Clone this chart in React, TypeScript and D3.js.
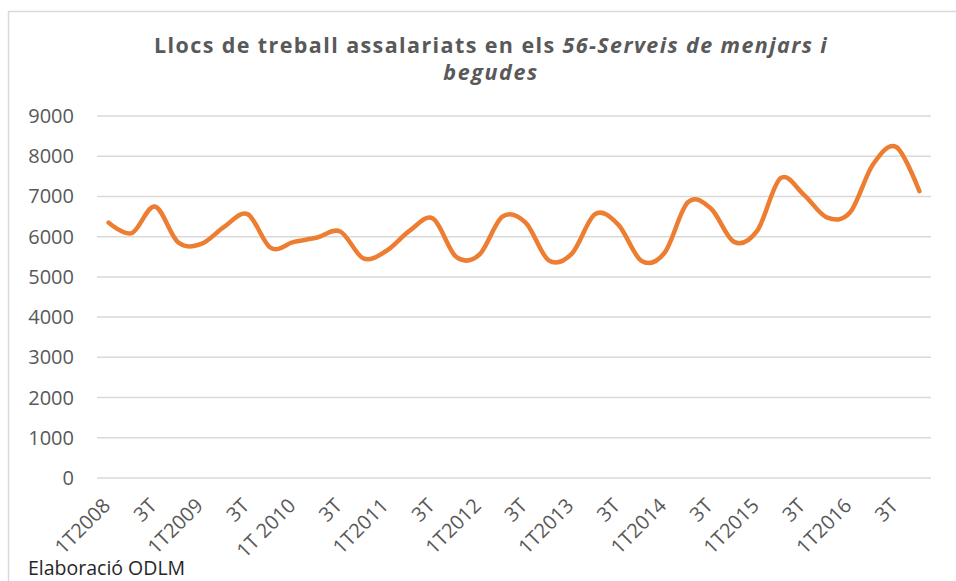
import * as d3 from "d3";

const quarters = [
  "1T2008", "2T", "3T", "4T",
  "1T2009", "2T", "3T", "4T",
  "1T 2010", "2T", "3T", "4T",
  "1T2011", "2T", "3T", "4T",
  "1T2012", "2T", "3T", "4T",
  "1T2013", "2T", "3T", "4T",
  "1T2014", "2T", "3T", "4T",
  "1T2015", "2T", "3T", "4T",
  "1T2016", "2T", "3T", "4T",
];

const jobs = [
  6350, 6090, 6750, 5860,
  5820, 6250, 6560, 5720,
  5870, 5980, 6130, 5460,
  5650, 6150, 6450, 5500,
  5550, 6500, 6350, 5410,
  5580, 6560, 6300, 5400,
  5600, 6850, 6700, 5870,
  6150, 7450, 7050, 6480,
  6600, 7800, 8230, 7130,
];

const yTicks = [0, 1000, 2000, 3000, 4000, 5000, 6000, 7000, 8000, 9000];

const W = 956,
  H = 581;
const plot = { left: 97, right: 931, top: 116, bottom: 478 };
const font = "'Open Sans', 'Noto Sans', sans-serif";

export default function App() {
  const x = d3
    .scaleBand<number>()
    .domain(d3.range(quarters.length))
    .range([plot.left, plot.right]);
  const y = d3.scaleLinear().domain([0, 9000]).range([plot.bottom, plot.top]);

  const line = d3
    .line<number>()
    .x((d, i) => x(i)! + x.bandwidth() / 2)
    .y((d) => y(d))
    .curve(d3.curveCardinal.tension(0));

  return (
    <svg
      width={W}
      height={H}
      style={{ position: "absolute", left: 0, top: 0, background: "#fff" }}
    >
      <rect x={8.5} y={11.5} width={W} height={H} fill="#fff" stroke="#d9d9d9" strokeWidth={1.5} />

      <text x={491} y={53} textAnchor="middle" fontFamily={font} fontWeight="bold" fontSize={21.5} letterSpacing={1.4} fill="#595959">
        Llocs de treball assalariats en els <tspan fontStyle="italic">56-Serveis de menjars i</tspan>
      </text>
      <text x={491} y={80} textAnchor="middle" fontFamily={font} fontWeight="bold" fontStyle="italic" fontSize={21.5} letterSpacing={1.6} fill="#595959">
        begudes
      </text>

      {yTicks.map((t) => (
        <g key={t}>
          <line x1={plot.left} x2={plot.right} y1={y(t)} y2={y(t)} stroke="#d9d9d9" strokeWidth={1.5} />
          <text x={74} y={y(t)} dy="0.35em" textAnchor="end" fontFamily={font} fontSize={20} fill="#595959">
            {t}
          </text>
        </g>
      ))}

      {quarters.map((q, i) =>
        i % 2 === 0 ? (
          <text
            key={i}
            transform={`translate(${x(i)! + x.bandwidth() / 2 + 3},${plot.bottom + 29}) rotate(-45)`}
            textAnchor="end"
            fontFamily={font}
            fontSize={20}
            fill="#595959"
          >
            {q}
          </text>
        ) : null
      )}

      <path d={line(jobs) ?? ""} fill="none" stroke="#ED7D31" strokeWidth={4.5} strokeLinecap="round" strokeLinejoin="round" />

      <text x={28} y={575} fontFamily={font} fontSize={19.5} fill="#262626">
        Elaboració ODLM
      </text>
    </svg>
  );
}
